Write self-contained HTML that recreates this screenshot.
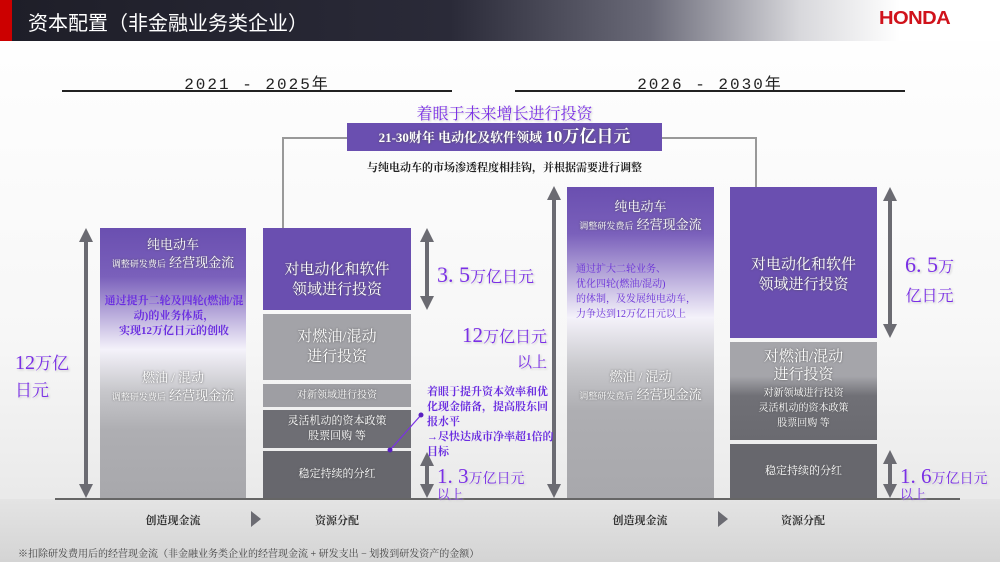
<!DOCTYPE html>
<html><head><meta charset="utf-8"><style>
*{margin:0;padding:0;box-sizing:border-box}
body{width:1000px;height:562px;overflow:hidden;position:relative;background:linear-gradient(#fff 0%,#f7f7f7 60%,#eaeaea 88%);font-family:"Liberation Serif","Noto Serif CJK SC","Noto Sans CJK SC",serif}
.a{position:absolute}
.c{text-align:center}
.w{color:#fff;text-shadow:0 0 2px #555}
.p{color:#7a2fe6;text-shadow:0 0 3px #fff,1px 1px 2px #bbb}
.s{font-family:"Liberation Sans","Noto Sans CJK SC",sans-serif}
</style></head><body>
<div class="a" style="left:0;top:0;width:1000px;height:41px;background:linear-gradient(90deg,#1e1e28 0%,#2a2a38 45%,#6a6a78 65%,#d8d8dc 80%,#fff 90%)"></div>
<div class="a" style="left:0;top:0;width:12px;height:41px;background:#c00"></div>
<div class="a s" style="left:28px;top:7px;font-size:20px;color:#fff">资本配置（非金融业务类企业）</div>
<div class="a" style="left:879px;top:8px;font-size:18px;font-weight:bold;color:#d0121b;font-family:'Liberation Sans',sans-serif;letter-spacing:-0.5px;transform:scaleX(1.12);transform-origin:left">HONDA</div>

<div class="a c" style="left:62px;top:70px;width:390px;font-size:16px;letter-spacing:2px;font-family:'Liberation Mono','Noto Sans CJK SC',monospace;color:#222">2021 - 2025年</div>
<div class="a" style="left:62px;top:90px;width:390px;height:2px;background:#222"></div>
<div class="a c" style="left:515px;top:70px;width:390px;font-size:16px;letter-spacing:2px;font-family:'Liberation Mono','Noto Sans CJK SC',monospace;color:#222">2026 - 2030年</div>
<div class="a" style="left:515px;top:90px;width:390px;height:2px;background:#222"></div>

<div class="a c p" style="left:347px;top:101px;width:315px;font-size:16px">着眼于未来增长进行投资</div>
<div class="a" style="left:282px;top:137px;width:65px;height:2px;background:#999"></div>
<div class="a" style="left:282px;top:137px;width:2px;height:101px;background:#999"></div>
<div class="a" style="left:278px;top:233px;width:9px;height:9px;border-radius:50%;background:#999"></div>
<div class="a" style="left:662px;top:137px;width:95px;height:2px;background:#999"></div>
<div class="a" style="left:755px;top:137px;width:2px;height:75px;background:#999"></div>
<div class="a" style="left:751px;top:207px;width:9px;height:9px;border-radius:50%;background:#999"></div>
<div class="a c w" style="left:347px;top:123px;width:315px;height:28px;background:#6a4fb0;font-size:13px;line-height:28px;font-weight:bold">21-30财年 电动化及软件领域 <span style="font-size:17px">10万亿日元</span></div>
<div class="a c" style="left:347px;top:159px;width:315px;font-size:11px;font-weight:bold;color:#222">与纯电动车的市场渗透程度相挂钩，并根据需要进行调整</div>

<div class="a" style="left:0;top:499px;width:1000px;height:63px;background:linear-gradient(#e4e4e4,#d4d4d4)"></div>
<div class="a" style="left:55px;top:498px;width:905px;height:2px;background:#666"></div>

<div class="a" style="left:100px;top:228px;width:146px;height:270px;background:linear-gradient(#6a4fb0 0%,#7a60bb 18%,#f4f2fa 45%,#c8c8cc 60%,#aeaeb2 75%,#a8a8ac 100%)"></div>
<div class="a c w" style="left:100px;top:236px;width:146px;font-size:13px;line-height:18px">纯电动车<br><span style="font-size:9px">调整研发费后</span> 经营现金流</div>
<div class="a c" style="left:104px;top:294px;width:140px;font-size:11px;line-height:15px;font-weight:bold;color:#6a2de0">通过提升二轮及四轮(燃油/混动)的业务体质，<br>实现12万亿日元的创收</div>
<div class="a c w" style="left:100px;top:369px;width:146px;font-size:13px;line-height:18px">燃油 / 混动<br><span style="font-size:9px">调整研发费后</span> 经营现金流</div>
<div class="a p" style="left:15px;top:350px;font-size:20px;line-height:26px">12<span style="font-size:17px">万亿</span><br><span style="font-size:17px">日元</span></div>

<div class="a c w" style="left:263px;top:228px;width:148px;height:82px;background:#6a4fb0;font-size:15px;line-height:20px;padding-top:32px">对电动化和软件<br>领域进行投资</div>
<div class="a c w" style="left:263px;top:314px;width:148px;height:66px;background:#a3a3a8;font-size:15px;line-height:20px;padding-top:13px">对燃油/混动<br>进行投资</div>
<div class="a c w" style="left:263px;top:384px;width:148px;height:23px;background:#9e9ea3;font-size:10px;line-height:23px">对新领域进行投资</div>
<div class="a c w" style="left:263px;top:410px;width:148px;height:38px;background:#6e6e74;font-size:11px;line-height:15px;padding-top:4px">灵活机动的资本政策<br>股票回购 等</div>
<div class="a c w" style="left:263px;top:451px;width:148px;height:47px;background:#67676d;font-size:11px;line-height:47px">稳定持续的分红</div>

<div class="a" style="left:567px;top:187px;width:147px;height:311px;background:linear-gradient(#6a4fb0 0%,#7a60bb 15%,#f4f2fa 42%,#c8c8cc 58%,#aeaeb2 72%,#a8a8ac 100%)"></div>
<div class="a c w" style="left:567px;top:198px;width:147px;font-size:13px;line-height:18px">纯电动车<br><span style="font-size:9px">调整研发费后</span> 经营现金流</div>
<div class="a" style="left:576px;top:262px;width:140px;font-size:10px;line-height:15px;color:#6a30d8">通过扩大二轮业务、<br>优化四轮(燃油/混动)<br>的体制，及发展纯电动车，<br>力争达到12万亿日元以上</div>
<div class="a c w" style="left:567px;top:368px;width:147px;font-size:13px;line-height:18px">燃油 / 混动<br><span style="font-size:9px">调整研发费后</span> 经营现金流</div>

<div class="a c w" style="left:730px;top:187px;width:147px;height:151px;background:#6a4fb0;font-size:15px;line-height:20px;padding-top:68px">对电动化和软件<br>领域进行投资</div>
<div class="a c w" style="left:730px;top:342px;width:147px;height:98px;background:linear-gradient(#a5a5aa 0%,#a5a5aa 35%,#707076 55%,#6a6a70 100%);font-size:15px;line-height:18px;padding-top:6px">对燃油/混动<br>进行投资<div style="font-size:10px;line-height:15px;margin-top:2px">对新领域进行投资<br>灵活机动的资本政策<br>股票回购 等</div></div>
<div class="a c w" style="left:730px;top:444px;width:147px;height:54px;background:#67676d;font-size:11px;line-height:54px">稳定持续的分红</div>

<svg class="a" style="left:0;top:0" width="1000" height="562">
<g fill="#6b6b72" stroke="#6b6b72" stroke-width="4">
<line x1="86" y1="240" x2="86" y2="486"/><polygon stroke="none" points="79,242 86,228 93,242"/><polygon stroke="none" points="79,484 86,498 93,484"/>
<line x1="427" y1="240" x2="427" y2="298"/><polygon stroke="none" points="420,242 427,228 434,242"/><polygon stroke="none" points="420,296 427,310 434,296"/>
<line x1="427" y1="464" x2="427" y2="486"/><polygon stroke="none" points="420,466 427,452 434,466"/><polygon stroke="none" points="420,484 427,498 434,484"/>
<line x1="554" y1="198" x2="554" y2="486"/><polygon stroke="none" points="547,200 554,186 561,200"/><polygon stroke="none" points="547,484 554,498 561,484"/>
<line x1="890" y1="199" x2="890" y2="326"/><polygon stroke="none" points="883,201 890,187 897,201"/><polygon stroke="none" points="883,324 890,338 897,324"/>
<line x1="890" y1="462" x2="890" y2="486"/><polygon stroke="none" points="883,464 890,450 897,464"/><polygon stroke="none" points="883,484 890,498 897,484"/>
</g>
<line x1="390" y1="450" x2="421" y2="415" stroke="#7a2fe6" stroke-width="1.2"/>
<circle cx="390" cy="450" r="2.5" fill="#5a20c0"/><circle cx="421" cy="415" r="2.5" fill="#5a20c0"/>
<polygon points="251,511 251,527 261,519" fill="#6b6b72"/>
<polygon points="718,511 718,527 728,519" fill="#6b6b72"/>
</svg>

<div class="a p" style="left:437px;top:262px;font-size:22px;white-space:nowrap">3. 5<span style="font-size:16px">万亿日元</span></div>
<div class="a p" style="left:443px;top:324px;width:104px;text-align:right;font-size:21px;line-height:22px">12<span style="font-size:16px">万亿日元</span><br><span style="font-size:15px">以上</span></div>
<div class="a" style="left:427px;top:385px;width:128px;font-size:11px;line-height:15px;font-weight:bold;color:#6a2de0">着眼于提升资本效率和优化现金储备，提高股东回报水平<br>→尽快达成市净率超1倍的目标</div>
<div class="a p" style="left:437px;top:465px;font-size:21px;line-height:22px;white-space:nowrap">1. 3<span style="font-size:14px">万亿日元</span></div>
<div class="a p" style="left:437px;top:488px;font-size:13px;line-height:14px">以上</div>
<div class="a p" style="left:905px;top:252px;font-size:22px;line-height:26px;text-align:center">6. 5<span style="font-size:16px">万</span><br><span style="font-size:16px">亿日元</span></div>
<div class="a p" style="left:900px;top:465px;font-size:21px;line-height:22px;white-space:nowrap">1. 6<span style="font-size:14px">万亿日元</span></div>
<div class="a p" style="left:900px;top:488px;font-size:13px;line-height:14px">以上</div>

<div class="a c" style="left:113px;top:512px;width:120px;font-size:11px;font-weight:bold;color:#333">创造现金流</div>
<div class="a c" style="left:277px;top:512px;width:120px;font-size:11px;font-weight:bold;color:#333">资源分配</div>
<div class="a c" style="left:580px;top:512px;width:120px;font-size:11px;font-weight:bold;color:#333">创造现金流</div>
<div class="a c" style="left:743px;top:512px;width:120px;font-size:11px;font-weight:bold;color:#333">资源分配</div>
<div class="a" style="left:18px;top:545px;font-size:10px;color:#444">※扣除研发费用后的经营现金流（非金融业务类企业的经营现金流 + 研发支出 − 划拨到研发资产的金额）</div>
</body></html>
